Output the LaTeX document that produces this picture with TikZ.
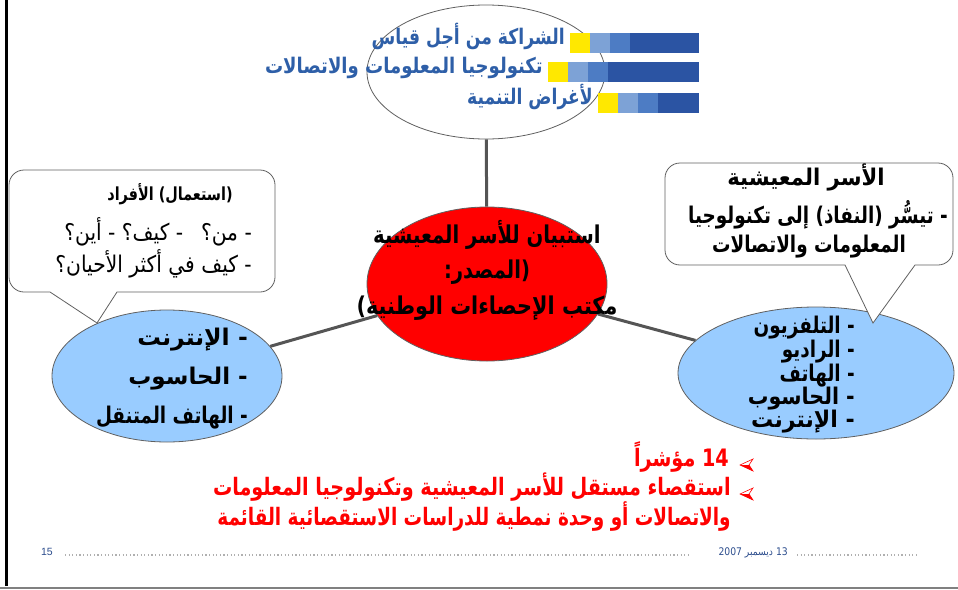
\documentclass[tikz,border=0pt]{standalone}
\usepackage{fontspec}
\usepackage{graphicx}
\setmainfont{Liberation Sans}
\newfontfamily\arb[Script=Arabic, FakeStretch=0.8, BoldFont={DejaVu Sans Bold}]{DejaVu Sans}
\newfontfamily\arn[Script=Arabic, FakeStretch=0.88]{DejaVu Sans}
\TeXXeTstate=1
\usetikzlibrary{shapes.geometric}
\definecolor{topblue}{HTML}{2E5FA8}
\definecolor{baryel}{HTML}{FFE800}
\definecolor{barlt}{HTML}{7DA2D6}
\definecolor{barmd}{HTML}{4D7CC4}
\definecolor{bardk}{HTML}{2B54A3}
\definecolor{ellblue}{HTML}{99CCFF}
\definecolor{conngray}{HTML}{555555}
\definecolor{edgegray}{HTML}{606060}
\definecolor{footblue}{HTML}{2B4C8C}
\definecolor{dotgray}{HTML}{B0B0B0}
\begin{document}
\begin{tikzpicture}[x=1pt,y=-1pt,
  ell/.style={ellipse, draw=edgegray, line width=0.8pt, inner sep=0pt},
  conn/.style={draw=conngray, line width=3pt},
  callout/.style={draw=edgegray, line width=0.8pt, fill=white},
  artb/.style={inner sep=0pt, font=\arb\bfseries\fontsize{23}{26}\selectfont},
  artn/.style={inner sep=0pt, font=\arn\fontsize{23}{26}\selectfont},
  topt/.style={inner sep=0pt, font=\arb\bfseries\fontsize{21.5}{24}\selectfont, text=topblue},
  cent/.style={inner sep=0pt, font=\arb\bfseries\fontsize{24.5}{27}\selectfont},
  redt/.style={inner sep=0pt, font=\arb\bfseries\fontsize{24}{27}\selectfont, text=red},
  foot/.style={inner sep=0pt, font=\fontsize{10.5}{12}\selectfont, text=footblue},
  footar/.style={inner sep=0pt, font=\arn\fontsize{10.5}{12}\selectfont, text=footblue}]
\useasboundingbox (0,0) rectangle (958,589);
% frame
\draw[line width=3pt] (6.5,0) -- (6.5,586);
\draw[gray, line width=2pt] (0,587.5) -- (958,587.5);
% ellipses
\node[ell, fill=white, minimum width=238pt, minimum height=134pt] (top) at (486,72) {};
\node[ell, fill=red, minimum width=240pt, minimum height=154pt] (center) at (487,284) {};
\node[ell, fill=ellblue, minimum width=230pt, minimum height=132pt] (left) at (167,376) {};
\node[ell, fill=ellblue, minimum width=276pt, minimum height=132pt] (right) at (816,373) {};
\draw[conn] (center) -- (top);
\draw[conn] (center) -- (left);
\draw[conn] (center) -- (right);
% bars
\foreach \y/\x in {33/570, 62/548, 93/598} {
  \fill[baryel] (\x,\y) rectangle ++(20,20);
  \fill[barlt] (\x+20,\y) rectangle ++(20,20);
  \fill[barmd] (\x+40,\y) rectangle ++(20,20);
  \fill[bardk] (\x+60,\y) rectangle (699,\y+20);
}
% top text
\node[topt, anchor=mid east] (t1) at (565,42) {\beginR الشراكة من أجل قياس\endR};
\node[topt, anchor=mid east] (t2) at (543,71) {\scalebox{1.05}[1]{\beginR تكنولوجيا المعلومات والاتصالات\endR}};
\node[topt, anchor=mid east] (t3) at (593,102) {\beginR لأغراض التنمية\endR};
% center text
\node[cent, anchor=mid] (c1) at (487,241) {\beginR استبيان للأسر المعيشية\endR};
\node[cent, anchor=mid] (c2) at (487,276) {\beginR(\kern0pt المصدر\kern0pt:\endR};
\node[cent, anchor=mid] (c3) at (487,312) {\scalebox{1.06}[1]{\beginR مكتب الإحصاءات الوطنية\kern0pt)\endR}};
% left callout
\coordinate (ltip) at (97,323);
\draw[callout] (50,292) [rounded corners=15pt] -- (9,292) -- (9,170) -- (275,170) -- (275,292) [sharp corners] -- (117,292) -- (ltip) -- cycle;
\node[inner sep=0pt, font=\arb\bfseries\fontsize{18}{22}\selectfont, anchor=mid] (l1) at (170,198) {\beginR(\kern0pt استعمال\kern0pt) الأفراد\endR};
\node[artn, anchor=mid east] (l2) at (252,238) {\beginR - من\kern0pt؟\enspace\ - كيف\kern0pt؟ - أين\kern0pt؟\endR};
\node[artn, anchor=mid east] (l3) at (252,270) {\beginR - كيف في أكثر الأحيان\kern0pt؟\endR};
% left ellipse text
\node[artb, anchor=mid east] (e1) at (248,343) {\scalebox{1.28}[1]{\beginR - الإنترنت\endR}};
\node[artb, anchor=mid east] (e2) at (248,382) {\scalebox{1.25}[1]{\beginR - الحاسوب\endR}};
\node[artb, anchor=mid east] (e3) at (248,421) {\beginR - الهاتف المتنقل\endR};
% right callout
\coordinate (rtip) at (873,323);
\draw[callout] (845,265) [rounded corners=15pt] -- (665,265) -- (665,163) -- (953,163) -- (953,265) [sharp corners] -- (915,265) -- (rtip) -- cycle;
\node[artb, anchor=mid] (r1) at (806,183) {\scalebox{1.15}[1]{\beginR الأسر المعيشية\endR}};
\node[artb, anchor=mid] (r2) at (818,221) {\beginR - تيسُّر (\kern0pt النفاذ\kern0pt) إلى تكنولوجيا\endR};
\node[artb, anchor=mid] (r3) at (809,250) {\beginR المعلومات والاتصالات\endR};
% right ellipse text
\node[artb, anchor=mid east] (s1) at (855,331) {\beginR - التلفزيون\endR};
\node[artb, anchor=mid east] (s2) at (855,355) {\beginR - الراديو\endR};
\node[artb, anchor=mid east] (s3) at (855,379) {\beginR - الهاتف\endR};
\node[artb, anchor=mid east] (s4) at (855,402) {\scalebox{1.12}[1]{\beginR - الحاسوب\endR}};
\node[artb, anchor=mid east] (s5) at (855,425) {\scalebox{1.2}[1]{\beginR - الإنترنت\endR}};
% red bullets
\foreach \yy in {465,494} {
  \draw[red, line width=0.6pt, line join=miter] (753,\yy-6) -- (740,\yy) -- (753,\yy+6) -- (749,\yy) -- cycle;
  \fill[red] (740,\yy) -- (753,\yy+6) -- (749,\yy) -- cycle;
}
\node[redt, anchor=mid east] (b1) at (729,464) {\beginR\beginL 14\endL{} مؤشراً\endR};
\node[redt, anchor=mid east] (b2) at (731,493) {\beginR استقصاء مستقل للأسر المعيشية وتكنولوجيا المعلومات\endR};
\node[redt, anchor=mid east] (b3) at (731,523) {\scalebox{0.96}[1]{\beginR والاتصالات أو وحدة نمطية للدراسات الاستقصائية القائمة\endR}};
% footer
\node[foot, anchor=mid] (pg) at (47,553) {15};
\node[footar, anchor=mid east] (dt) at (788,553) {\beginR\beginL 13\endL{} ديسمبر \beginL 2007\endL\endR};
\draw[dotgray, line width=1.2pt, dash pattern=on 1.2pt off 2.4pt] (65,555) -- (690,555);
\draw[dotgray, line width=1.2pt, dash pattern=on 1.2pt off 2.4pt] (797,555) -- (918,555);
\end{tikzpicture}
\end{document}
